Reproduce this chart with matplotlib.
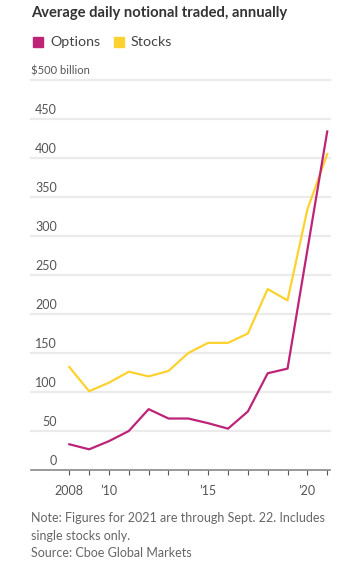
import matplotlib
matplotlib.use("Agg")
import matplotlib.pyplot as plt
from matplotlib.patches import Rectangle

years = [2008, 2009, 2010, 2011, 2012, 2013, 2014, 2015, 2016, 2017, 2018, 2019, 2020, 2021]
options = [33, 26.5, 37, 50, 78, 66, 66, 60, 53, 75, 124, 130, 282, 434]
stocks = [132, 101, 112, 126, 120, 127, 150, 163, 163, 175, 232, 217.5, 334, 405]
ytick_vals = [0, 50, 100, 150, 200, 250, 300, 350, 400, 450, 500]
ytick_labels = ["0", "50", "100", "150", "200", "250", "300", "350", "400", "450", "$500 billion"]
xtick_vals = [2008, 2010, 2015, 2020]
xtick_labels = ["2008", "\u201910", "\u201915", "\u201920"]

OPT_C = "#BD2477"
STK_C = "#FDD22F"
GRID_C = "#EBEBEB"
TXT_C = "#555555"

plt.rcParams['font.family'] = ['Lato', 'DejaVu Sans']

W, H = 347, 572
fig = plt.figure(figsize=(W / 100, H / 100), dpi=100)
x0, x1 = 31, 330
y0, y1 = 470, 80
ax = fig.add_axes([x0 / W, (H - y0) / H, (x1 - x0) / W, (y0 - y1) / H])
ax.set_xlim(2006.07, 2021.14)
ax.set_ylim(0, 500)

for v in ytick_vals[1:]:
    ax.axhline(v, color=GRID_C, lw=1.6, zorder=0, clip_on=False)

ax.plot(years, stocks, color=STK_C, lw=1.6, zorder=3, clip_on=False)
ax.plot(years, options, color=OPT_C, lw=1.6, zorder=4, clip_on=False)

for s in ["top", "right", "left"]:
    ax.spines[s].set_visible(False)
ax.spines["bottom"].set_color("#888888")
ax.spines["bottom"].set_linewidth(1.2)

ax.set_yticks([])
ax.set_xticks(xtick_vals)
ax.set_xticklabels(xtick_labels)
ax.set_xticks(years, minor=True)
ax.tick_params(axis="x", which="both", length=3.5, width=0.8, color="#555555",
               labelsize=9, labelcolor=TXT_C, pad=7)

for v, lab in zip(ytick_vals, ytick_labels):
    ypx = y0 - v * (y0 - y1) / 500
    if lab.startswith("$"):
        fig.text(31 / W, 1 - (ypx - 9) / H, lab, ha="left", va="center",
                 fontsize=8.0, color=TXT_C)
    else:
        fig.text(57 / W, 1 - (ypx - 9) / H, lab, ha="right", va="center",
                 fontsize=9, color=TXT_C)

fig.text(31 / W, 1 - 13 / H, "Average daily notional traded, annually", ha="left", va="center",
         fontsize=10.6, fontweight="bold", color="#333333")

# legend
fig.patches.append(Rectangle((33 / W, 1 - 47 / H), 10 / W, 10 / H, transform=fig.transFigure,
                             color=OPT_C, figure=fig))
fig.text(50 / W, 1 - 42 / H, "Options", ha="left", va="center", fontsize=10.3, color="#444444")
fig.patches.append(Rectangle((114 / W, 1 - 47 / H), 10 / W, 10 / H, transform=fig.transFigure,
                             color=STK_C, figure=fig))
fig.text(131 / W, 1 - 42 / H, "Stocks", ha="left", va="center", fontsize=10.3, color="#444444")

notes = ["Note: Figures for 2021 are through Sept. 22. Includes",
         "single stocks only.",
         "Source: Cboe Global Markets"]
for i, t in enumerate(notes):
    fig.text(31 / W, 1 - (518 + i * 17.5) / H, t, ha="left", va="center", fontsize=9.0, color="#666666")

fig.savefig("out.png", dpi=100, facecolor="white")
